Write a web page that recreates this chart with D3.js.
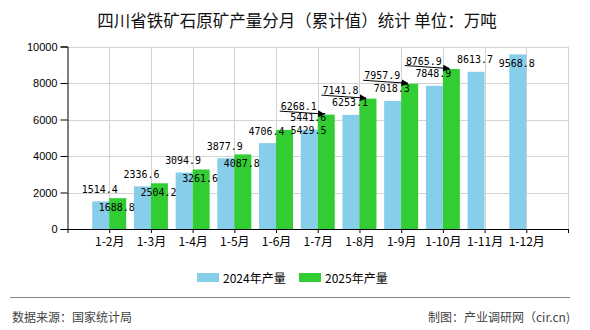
<!DOCTYPE html>
<html><head><meta charset="utf-8">
<script src="https://cdn.jsdelivr.net/npm/d3@7"></script>
<style>
html,body{margin:0;padding:0;background:#fff;}
svg{display:block;}
</style></head>
<body>
<svg id="chart" width="590" height="330"></svg>
<script>
// ---- data ----
const categories = ["1-2月","1-3月","1-4月","1-5月","1-6月","1-7月","1-8月","1-9月","1-10月","1-11月","1-12月"];
const values2024 = [1514.4, 2336.6, 3094.9, 3877.9, 4706.4, 5441.6, 6253.1, 7018.3, 7848.9, 8613.7, 9568.8];
const values2025 = [1688.8, 2504.2, 3261.6, 4087.8, 5429.5, 6268.1, 7141.8, 7957.9, 8765.9];
const seriesNames = ["2024年产量", "2025年产量"];
const yTicks = [0, 2000, 4000, 6000, 8000, 10000];
const titleText = "四川省铁矿石原矿产量分月（累计值）统计  单位：万吨";
const sourceText = "数据来源：国家统计局";
const creditText = "制图：产业调研网（cir.cn)";

// ---- layout / style ----
const colors = ["#87CEEB", "#32CD32"];
const L = 67.5, R = 568, T = 46.5, B = 229;
const barW = 17;
const cjk = "'Noto Sans CJK SC', 'Noto Sans', sans-serif";
const mono = "'DejaVu Sans Mono', 'Liberation Mono', monospace";
// label placement for each series point (layout, not data)
const place2024 = ["above","above","above","above","above","above","above","above","above","above","inside"];
const place2025 = ["below","below","below","below","right","leader","leader","leader","leader"];

const svg = d3.select("#chart");

const x = d3.scaleLinear().domain([0, categories.length + 1]).range([L, R]);
const y = d3.scaleLinear().domain([0, 10000]).range([B, T]);

// grid
const grid = svg.append("g");
grid.selectAll("line.h").data(yTicks.filter(d => d > 0)).enter().append("line")
  .attr("x1", L).attr("x2", R)
  .attr("y1", d => Math.round(y(d)) + 0.5).attr("y2", d => Math.round(y(d)) + 0.5)
  .attr("stroke", "#d3d3d3").attr("stroke-width", 1);
grid.selectAll("line.v").data(d3.range(1, categories.length + 2)).enter().append("line")
  .attr("x1", d => Math.round(x(d)) + 0.5).attr("x2", d => Math.round(x(d)) + 0.5)
  .attr("y1", T).attr("y2", B)
  .attr("stroke", "#d3d3d3").attr("stroke-width", 1);

// bars
const bars = svg.append("g");
bars.selectAll("rect.b24").data(values2024).enter().append("rect")
  .attr("x", (d, i) => x(i + 1) - barW).attr("width", barW)
  .attr("y", d => y(d)).attr("height", d => B - y(d))
  .attr("fill", colors[0]);
bars.selectAll("rect.b25").data(values2025).enter().append("rect")
  .attr("x", (d, i) => x(i + 1)).attr("width", barW)
  .attr("y", d => y(d)).attr("height", d => B - y(d))
  .attr("fill", colors[1]);

// axes
const yAxis = d3.axisLeft(y).tickValues(yTicks).tickSize(7).tickPadding(3).tickFormat(d3.format("d"));
const gy = svg.append("g").attr("transform", `translate(${L},0)`).call(yAxis);
gy.select(".domain").attr("stroke", "#000");
gy.selectAll(".tick line").attr("stroke", "#000");
gy.selectAll("text").attr("font-family", "'Liberation Sans', Arial, sans-serif").attr("font-size", 11).attr("fill", "#000");

const xAxis = d3.axisBottom(x).tickValues(d3.range(0, categories.length + 2)).tickSize(4).tickSizeOuter(0).tickPadding(4)
  .tickFormat(d => categories[d - 1] || "");
const gx = svg.append("g").attr("transform", `translate(0,${B})`).call(xAxis);
gx.select(".domain").attr("stroke", "#000");
gx.selectAll(".tick line").attr("stroke", "#000");
gx.selectAll("text").attr("font-family", cjk).attr("font-size", 12).attr("fill", "#000");

// value labels
const labels = svg.append("g").attr("font-family", mono).attr("font-size", 10.5).attr("fill", "#000");
function addLabel(cx, cy, txt) {
  labels.append("text").attr("x", cx).attr("y", cy)
    .attr("text-anchor", "middle").attr("dominant-baseline", "central")
    .attr("textLength", txt.length * 6).attr("lengthAdjust", "spacingAndGlyphs")
    .text(txt);
}
values2024.forEach((v, i) => {
  const cx = x(i + 1) - barW / 2 - 1;
  const top = y(v);
  const cy = place2024[i] === "inside" ? top + 8.5 : top - 12.5;
  addLabel(cx, cy, String(v.toFixed(1)));
});
svg.append("defs").append("marker").attr("id", "arr").attr("viewBox", "0 0 10 10")
  .attr("refX", 9).attr("refY", 5).attr("markerWidth", 7).attr("markerHeight", 7)
  .attr("orient", "auto").append("path").attr("d", "M0,0 L10,5 L0,10 z").attr("fill", "#000");
values2025.forEach((v, i) => {
  const c = x(i + 1) + barW / 2;
  const top = y(v);
  const txt = v.toFixed(1);
  const p = place2025[i];
  if (p === "below") addLabel(c - 1, top + 8.5, txt);
  else if (p === "right") addLabel(c + 24, top, txt);
  else {
    addLabel(c - 27.5, top - 8.5, txt);
    labels.append("line").attr("x1", c - 46.5).attr("y1", top - 3.5)
      .attr("x2", c - 2).attr("y2", top - 0.5)
      .attr("stroke", "#000").attr("stroke-width", 1).attr("marker-end", "url(#arr)");
  }
});

// title
svg.append("text").attr("x", 297).attr("y", 20).attr("text-anchor", "middle")
  .attr("dominant-baseline", "central").attr("font-family", cjk).attr("font-size", 16.5)
  .attr("fill", "#111").text(titleText);

// legend
const lg = svg.append("g").attr("font-family", cjk).attr("font-size", 12);
const legX = [197, 299];
seriesNames.forEach((n, i) => {
  lg.append("rect").attr("x", legX[i]).attr("y", 273).attr("width", 22).attr("height", 9).attr("fill", colors[i]);
  lg.append("text").attr("x", legX[i] + 26).attr("y", 277.5).attr("dominant-baseline", "central")
    .attr("fill", "#000").text(n);
});

// footer
svg.append("line").attr("x1", 10).attr("x2", 570).attr("y1", 297.5).attr("y2", 297.5)
  .attr("stroke", "#888").attr("stroke-width", 1);
svg.append("text").attr("x", 12).attr("y", 316).attr("dominant-baseline", "central")
  .attr("font-family", cjk).attr("font-size", 12).attr("fill", "#444").text(sourceText);
svg.append("text").attr("x", 570).attr("y", 316).attr("dominant-baseline", "central").attr("text-anchor", "end")
  .attr("font-family", cjk).attr("font-size", 12).attr("fill", "#444").text(creditText);
</script>
</body></html>
